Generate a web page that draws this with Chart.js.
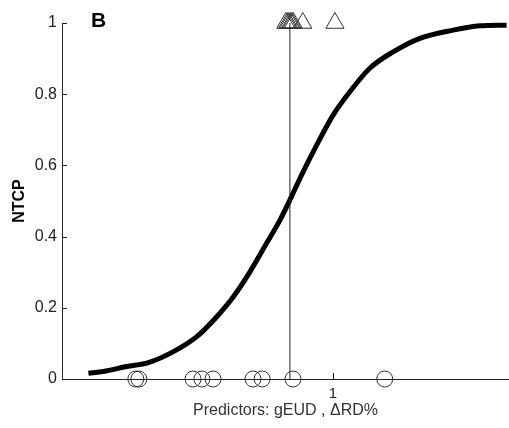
<!DOCTYPE html>
<html lang="en">
<head>
  <meta charset="UTF-8">
  <title>NTCP vs predictors</title>
  <script src="https://cdn.jsdelivr.net/npm/chart.js"></script>
  <style>
    * { box-sizing: border-box; margin: 0; padding: 0; }
    body { background: #fff; }
    .wrap { position: relative; width: 509px; height: 428px; }
  </style>
</head>
<body>
  <div class="wrap">
    <canvas id="ntcpChart"></canvas>
  </div>

  <script>
    // fitted NTCP curve
    const curveX = [0.278, 0.322, 0.391, 0.455, 0.529, 0.598, 0.657, 0.706, 0.755, 0.804, 0.844, 0.873,
                    0.912, 0.952, 1.001, 1.050, 1.109, 1.178, 1.257, 1.355, 1.434, 1.513];
    const curveY = [0.016, 0.021, 0.035, 0.046, 0.077, 0.119, 0.175, 0.231, 0.301, 0.381, 0.447, 0.503,
                    0.582, 0.657, 0.742, 0.807, 0.873, 0.919, 0.957, 0.980, 0.992, 0.994];

    // patients without complication (circles, NTCP = 0)
    const circleX = [0.418, 0.427, 0.587, 0.613, 0.646, 0.764, 0.791, 0.882, 1.153];
    // patients with complication (triangles, NTCP = 1)
    const triangleX = [0.861, 0.866, 0.870, 0.875, 0.879, 0.883, 0.911, 1.006];

    // cut-off line
    const thresholdX = 0.873;

    const xTicks = [1];
    const yTicks = [0, 0.2, 0.4, 0.6, 0.8, 1];

    const ink = '#222';
    const font = "'Liberation Sans', Arial, sans-serif";

    // ticks drawn inward plus the panel letter
    const extras = {
      id: 'extras',
      afterDraw(chart) {
        const { ctx, scales: { x, y } } = chart;
        ctx.save();
        ctx.strokeStyle = ink;
        ctx.lineWidth = 1;
        yTicks.forEach(v => {
          const py = Math.round(y.getPixelForValue(v)) + 0.5;
          ctx.beginPath();
          ctx.moveTo(x.left, py);
          ctx.lineTo(x.left + 5, py);
          ctx.stroke();
        });
        xTicks.forEach(v => {
          const px = Math.round(x.getPixelForValue(v)) + 0.5;
          ctx.beginPath();
          ctx.moveTo(px, y.bottom);
          ctx.lineTo(px, y.bottom - 6);
          ctx.stroke();
        });
        ctx.fillStyle = '#000';
        ctx.font = 'bold 21px ' + font;
        ctx.textBaseline = 'alphabetic';
        ctx.fillText('B', 91, 27);
        ctx.restore();
      }
    };

    new Chart(document.getElementById('ntcpChart'), {
      type: 'scatter',
      data: {
        datasets: [
          {
            label: 'threshold',
            data: [{ x: thresholdX, y: 0 }, { x: thresholdX, y: 1 }],
            showLine: true,
            borderColor: ink,
            borderWidth: 1,
            pointRadius: 0,
            clip: false
          },
          {
            label: 'NTCP',
            data: curveX.map((v, i) => ({ x: v, y: curveY[i] })),
            showLine: true,
            borderColor: '#000',
            borderWidth: 5,
            cubicInterpolationMode: 'monotone',
            pointRadius: 0,
            clip: false
          },
          {
            label: 'no complication',
            data: circleX.map(v => ({ x: v, y: 0 })),
            pointStyle: 'circle',
            pointRadius: 8,
            borderColor: '#333',
            borderWidth: 1,
            backgroundColor: 'rgba(0,0,0,0)',
            clip: false
          },
          {
            label: 'complication',
            data: triangleX.map(v => ({ x: v, y: 1 })),
            pointStyle: 'triangle',
            pointRadius: 10.5,
            borderColor: '#333',
            borderWidth: 1,
            backgroundColor: 'rgba(0,0,0,0)',
            clip: false
          }
        ]
      },
      options: {
        responsive: true,
        maintainAspectRatio: false,
        animation: false,
        layout: { autoPadding: false, padding: { top: 23, right: 0, bottom: 0, left: 0 } },
        plugins: {
          legend: { display: false },
          tooltip: { enabled: false }
        },
        scales: {
          x: {
            type: 'linear',
            min: 0.2,
            max: 1.52,
            afterBuildTicks: s => { s.ticks = xTicks.map(v => ({ value: v })); },
            afterFit: s => { s.height = 49; s.paddingLeft = 0; s.paddingRight = 0; },
            grid: { display: true, drawOnChartArea: false, drawTicks: false },
            border: { display: true, color: ink, width: 1 },
            ticks: { color: ink, padding: 6, font: { family: font, size: 15 } },
            title: {
              display: true,
              text: 'Predictors: gEUD , \u0394RD%',
              color: '#333',
              font: { family: font, size: 16 },
              padding: { top: 0, bottom: 8 }
            }
          },
          y: {
            type: 'linear',
            min: 0,
            max: 1,
            afterBuildTicks: s => { s.ticks = yTicks.map(v => ({ value: v })); },
            afterFit: s => { s.width = 62; s.paddingTop = 0; s.paddingBottom = 0; },
            grid: { display: true, drawOnChartArea: false, drawTicks: false },
            border: { display: true, color: ink, width: 1 },
            ticks: {
              color: ink,
              padding: 5,
              font: { family: font, size: 16 },
              callback: v => String(v)
            },
            title: {
              display: true,
              text: 'NTCP',
              color: '#000',
              font: { family: font, size: 16, weight: 'bold' },
              padding: { top: 10, bottom: 0 }
            }
          }
        }
      },
      plugins: [extras]
    });
  </script>
</body>
</html>
